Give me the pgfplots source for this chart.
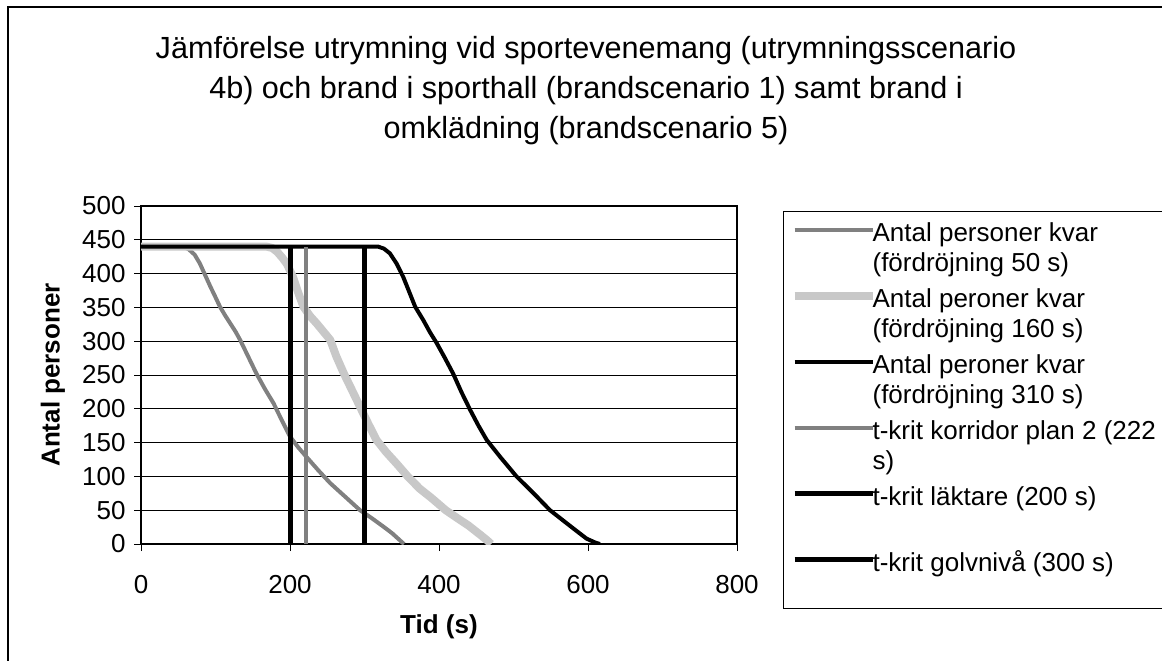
\documentclass[border=0pt]{standalone}
\usepackage{pgfplots}
\pgfplotsset{compat=1.18}
\usepackage{fontspec}
\setmainfont{Liberation Sans}
\definecolor{midgray}{HTML}{808080}
\definecolor{palegray}{HTML}{C8C8C8}
% two-line legend text, bottom-aligned; the sample is lifted to the first line
\newcommand\lgentry[2]{\parbox[b]{170pt}{\rule{0pt}{13pt}#1\\\strut#2}}

% evacuation curves: remaining persons over time
\pgfplotstableread{
t n
0 440
56 440
64 436
72 428
79 415
86 398
93 381
100 365
106 351
113 338
120 326
127 314
133 302
144 277
155 252
166 230
178 208
189 183
200 159
211 143
222 129
238 109
254 90
274 70
294 50
310 38
325 26
337 16
348 5
353 0
}\delayA
\pgfplotstableread{
t n
0 440
168 440
176 438
183 432
190 423
196 414
204 395
211 372
218 351
227 337
236 326
245 314
254 302
262 278
272 253
283 228
294 203
305 178
316 154
329 136
343 119
358 100
374 82
390 68
409 50
425 38
440 27
455 14
464 6
470 0
}\delayB
\pgfplotstableread{
t n
0 440
318 440
326 437
334 430
343 415
352 395
360 373
368 351
379 331
388 313
397 297
408 275
419 252
430 225
442 198
453 175
464 154
482 129
504 100
527 75
549 50
571 31
585 19
598 8
610 2
616 0
}\delayC

\begin{document}
\begin{tikzpicture}[x=1pt,y=1pt]
\useasboundingbox (0,0) rectangle (581,330);
% outer chart frame
\draw[line width=0.6pt] (4,-10) -- (4,326.5) -- (600,326.5);
\node[align=center, font=\fontsize{15.3}{20}\selectfont] at (293,284.5)
 {Jämförelse utrymning vid sportevenemang (utrymningsscenario\\
  4b) och brand i sporthall (brandscenario 1) samt brand i\\
  omklädning (brandscenario 5)};
\begin{axis}[
  at={(70.5pt,58pt)}, anchor=south west,
  scale only axis, width=298pt, height=169pt,
  xmin=0, xmax=800, ymin=0, ymax=500,
  xtick={0,200,...,800}, ytick={0,50,...,500},
  tick pos=left, tick align=outside, major tick length=3.5pt,
  tick style={black, line width=0.5pt},
  axis line style={line width=0.9pt},
  ymajorgrids, grid style={black, line width=0.5pt},
  /pgf/number format/assume math mode=true,
  ticklabel style={font=\fontsize{13}{15}\selectfont},
  yticklabel style={inner sep=0pt, xshift=-4pt},
  xticklabel style={inner sep=0pt, yshift=-12pt},
  xlabel={Tid (s)}, ylabel={Antal personer},
  label style={font=\fontsize{13}{15}\bfseries\selectfont},
  xlabel style={at={(axis description cs:0.5,-0.2456)}, anchor=center},
  ylabel style={at={(axis description cs:-0.1477,0.5)}, anchor=center},
  legend style={at={(axis description cs:1.0772,0.9852)}, anchor=north west,
    draw=black, line width=0.6pt, font=\fontsize{13}{15}\selectfont,
    inner xsep=3.5pt, inner ysep=2pt, column sep=-2pt, row sep=3.5pt,
    nodes={inner sep=0pt}, cells={anchor=base west}},
  legend image code/.code={\draw[#1] (0pt,21pt) -- (39pt,21pt);},
]
\addplot[midgray, line width=2pt, line join=round] table {\delayA};
\addlegendentry{\lgentry{Antal personer kvar}{(fördröjning 50 s)}}
\addplot[palegray, line width=4pt, line join=round] table {\delayB};
\addlegendentry{\lgentry{Antal peroner kvar}{(fördröjning 160 s)}}
\addplot[black, line width=2pt, line join=round] table {\delayC};
\addlegendentry{\lgentry{Antal peroner kvar}{(fördröjning 310 s)}}
\addplot[midgray, line width=2pt] coordinates {(222,0) (222,440)};
\addlegendentry{\lgentry{t-krit korridor plan 2 (222}{s)}}
\addplot[black, line width=2.5pt] coordinates {(200,0) (200,440)};
\addlegendentry{\lgentry{t-krit läktare (200 s)}{}}
\addplot[black, line width=2.5pt] coordinates {(300,0) (300,440)};
\addlegendentry{\lgentry{t-krit golvnivå (300 s)}{}}
\end{axis}
\end{tikzpicture}
\end{document}
